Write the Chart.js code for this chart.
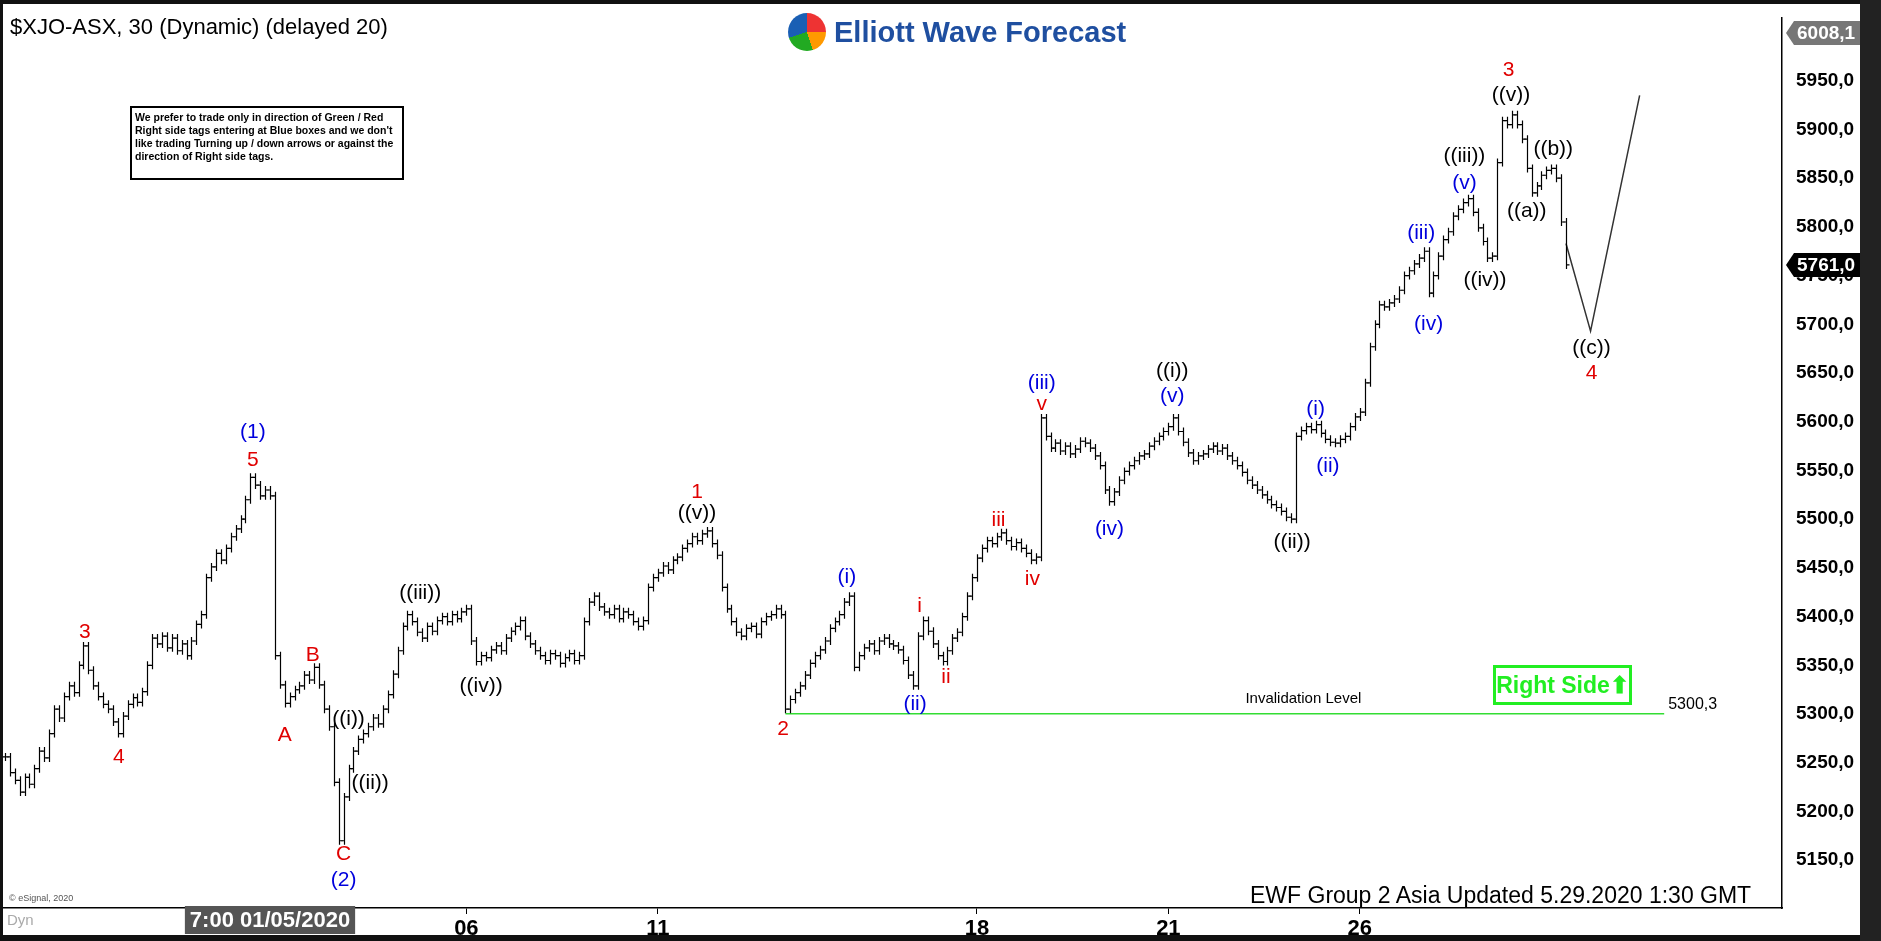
<!DOCTYPE html>
<html><head><meta charset="utf-8">
<script src="https://cdn.jsdelivr.net/npm/chart.js@4"></script>
<style>html,body{margin:0;padding:0;background:#fff;overflow:hidden}#wrap{position:relative;width:1881px;height:941px}</style>
</head><body><div id="wrap"><canvas id="c" width="1881" height="941"></canvas></div>
<script>
const closes=[5256,5240,5232,5220,5235,5228,5244,5262,5255,5280,5305,5296,5318,5329,5322,5350,5370,5345,5329,5318,5310,5305,5292,5280,5298,5310,5317,5312,5323,5350,
5378,5372,5380,5368,5378,5365,5372,5360,5375,5392,5402,5440,5451,5465,5458,5470,5482,5490,5500,5520,5543,5535,5524,5530,5524,5360,5330,5311,5318,5325,
5329,5340,5335,5348,5330,5305,5287,5230,5170,5215,5244,5262,5274,5280,5287,5296,5290,5305,5320,5341,5365,5390,5402,5395,5384,5378,5390,5385,5396,5400,
5395,5402,5398,5405,5408,5375,5354,5360,5358,5366,5370,5365,5378,5385,5390,5396,5380,5372,5365,5360,5355,5362,5360,5352,5358,5362,5355,5360,5395,5415,
5421,5410,5405,5402,5408,5398,5405,5402,5395,5390,5396,5430,5440,5445,5452,5448,5458,5461,5470,5475,5482,5478,5485,5488,5475,5463,5430,5408,5395,5384,
5380,5388,5390,5382,5395,5400,5402,5408,5402,5305,5315,5322,5329,5340,5352,5360,5366,5375,5388,5395,5402,5415,5421,5348,5360,5368,5372,5365,5375,5378,
5372,5370,5366,5355,5340,5329,5380,5396,5385,5372,5360,5354,5365,5378,5384,5400,5421,5440,5460,5470,5478,5475,5482,5486,5478,5472,5476,5470,5465,5458,
5461,5604,5585,5573,5578,5570,5575,5567,5572,5580,5578,5573,5565,5555,5530,5518,5528,5540,5549,5555,5560,5565,5567,5575,5580,5585,5590,5595,5604,5590,
5579,5568,5560,5565,5567,5572,5575,5570,5573,5565,5560,5555,5548,5540,5535,5530,5525,5520,5515,5512,5508,5502,5500,5585,5591,5595,5592,5597,5588,5582,
5579,5578,5582,5585,5595,5605,5610,5640,5677,5700,5720,5718,5722,5726,5735,5750,5755,5762,5768,5775,5732,5750,5770,5787,5795,5811,5818,5825,5829,5815,
5799,5785,5768,5770,5866,5909,5905,5915,5905,5890,5860,5835,5842,5853,5858,5860,5850,5805,5761];
const tickIdx=[54,94,133,198,237,276];
const tickLabels=['7:00 01/05/2020','06','11','18','21','26'];
const projX=[318,323,333];
const projY=[5783,5693,5935];
const invalidLevel=5300.3;
const invalidFrom=159, invalidTo=338;
const waveLabels=[
['3',16.3,5384,'#e00000'],['4',23.2,5256,'#e00000'],['(1)',50.5,5589,'#0000dd'],['5',50.5,5561,'#e00000'],
['A',57,5278,'#e00000'],['B',62.7,5360,'#e00000'],['((i))',70,5295,'#000'],['((ii))',74.4,5229,'#000'],
['C',69,5156,'#e00000'],['(2)',69,5130,'#0000dd'],['((iii))',84.6,5424,'#000'],['((iv))',97,5329,'#000'],
['1',141,5528,'#e00000'],['((v))',141,5506,'#000'],['2',158.5,5285,'#e00000'],['(i)',171.5,5441,'#0000dd'],
['(ii)',185.4,5310,'#0000dd'],['i',186.3,5411,'#e00000'],['ii',191.7,5338,'#e00000'],['iii',202.4,5499,'#e00000'],
['iv',209.3,5438,'#e00000'],['(iii)',211.2,5640,'#0000dd'],['v',211.2,5618,'#e00000'],['(iv)',225,5490,'#0000dd'],
['((i))',237.8,5652,'#000'],['(v)',237.8,5626,'#0000dd'],['((ii))',262.2,5476,'#000'],['(i)',267,5613,'#0000dd'],
['(ii)',269.5,5554,'#0000dd'],['(iii)',288.5,5794,'#0000dd'],['(iv)',290,5700,'#0000dd'],['((iii))',297.3,5873,'#000'],
['(v)',297.3,5845,'#0000dd'],['((iv))',301.5,5745,'#000'],['3',306.3,5961,'#e00000'],['((v))',306.8,5935,'#000'],
['((b))',315.4,5880,'#000'],['((a))',310,5816,'#000'],['((c))',323.2,5676,'#000'],['4',323.2,5650,'#e00000']];

const ohlc=closes.map((c,i)=>{const o=i?closes[i-1]:c;return {x:i,o:o,c:c,h:Math.max(o,c),l:Math.min(o,c)};});

const ohlcPlugin={id:'ohlc',afterDatasetsDraw(ch){
 const ctx=ch.ctx,xs=ch.scales.x,ys=ch.scales.y;ctx.save();ctx.strokeStyle='#000';ctx.lineWidth=1.2;
 ohlc.forEach(b=>{const x=Math.round(xs.getPixelForValue(b.x))+0.5;ctx.beginPath();
  ctx.moveTo(x,ys.getPixelForValue(b.h)-4);ctx.lineTo(x,ys.getPixelForValue(b.l)+4);
  const yo=ys.getPixelForValue(b.o),yc=ys.getPixelForValue(b.c);
  ctx.moveTo(x-3,yo);ctx.lineTo(x,yo);ctx.moveTo(x,yc);ctx.lineTo(x+3,yc);ctx.stroke();});
 ctx.textAlign='center';ctx.textBaseline='middle';ctx.font='21px Arial, "Liberation Sans"';
 waveLabels.forEach(l=>{ctx.fillStyle=l[3];ctx.fillText(l[0],xs.getPixelForValue(l[1]),ys.getPixelForValue(l[2]));});
 const yi=ys.getPixelForValue(invalidLevel);
 ctx.fillStyle='#000';ctx.font='15px Arial, "Liberation Sans"';ctx.fillText('Invalidation Level',xs.getPixelForValue(264.5),yi-15);
 ctx.textAlign='left';ctx.font='16px Arial, "Liberation Sans"';ctx.fillText('5300,3',xs.getPixelForValue(invalidTo)+4,yi-9);
 const tag=(v,txt,bg)=>{const y=ys.getPixelForValue(v),x0=xs.right+4;ctx.fillStyle=bg;ctx.beginPath();ctx.moveTo(x0,y);ctx.lineTo(x0+8,y-12);ctx.lineTo(1875,y-12);ctx.lineTo(1875,y+12);ctx.lineTo(x0+8,y+12);ctx.closePath();ctx.fill();
  ctx.fillStyle='#fff';ctx.font='bold 19px Arial, "Liberation Sans"';ctx.textAlign='left';ctx.fillText(txt,x0+11,y+1);};
 tag(5761,'5761,0','#000');tag(5999,'6008,1','#777');
 // highlighted first date label
 const xl=xs.getPixelForValue(tickIdx[0]);ctx.font='bold 22px Arial, "Liberation Sans"';
 const w=ctx.measureText(tickLabels[0]).width;ctx.fillStyle='#555';ctx.fillRect(xl-w/2-5,xs.bottom-29,w+10,28);
 ctx.fillStyle='#fff';ctx.textAlign='center';ctx.fillText(tickLabels[0],xl,xs.bottom-14);
 ctx.font='15px Arial, "Liberation Sans"';ctx.fillStyle='#aaa';ctx.textAlign='left';ctx.fillText('Dyn',7,xs.bottom-14);
 ctx.restore();}};

new Chart(document.getElementById('c'),{type:'scatter',
 data:{datasets:[
  {data:projX.map((x,i)=>({x:x,y:projY[i]})),showLine:true,borderColor:'#333',borderWidth:1.5,pointRadius:0},
  {data:[{x:invalidFrom,y:invalidLevel},{x:invalidTo,y:invalidLevel}],showLine:true,borderColor:'#33dd33',borderWidth:1.5,pointRadius:0}]},
 options:{responsive:false,animation:false,layout:{padding:{top:8,right:0,left:0,bottom:6}},
  plugins:{legend:{display:false},tooltip:{enabled:false}},
  scales:{
   x:{type:'linear',min:-1,max:362,grid:{display:true,drawOnChartArea:false,color:'#000',tickLength:6},border:{display:true,color:'#000',width:1.5},
    afterFit(s){s.height=27;},
    afterBuildTicks(s){s.ticks=tickIdx.map(v=>({value:v}));},
    ticks:{autoSkip:false,maxRotation:0,padding:2,color:'#000',font:{size:22,weight:'bold',family:'Arial'},callback:(v)=>{const k=tickIdx.indexOf(v);return k>0?tickLabels[k]:'';}}},
   y:{position:'right',min:5101,max:6015,grid:{display:false},border:{display:true,color:'#000',width:1.5},
    afterFit(s){s.width=99;},
    afterBuildTicks(s){const t=[];for(let v=5150;v<=5950;v+=50)t.push({value:v});s.ticks=t;},
    ticks:{color:'#000',padding:6,font:{size:19,weight:'bold',family:'Arial'},callback:v=>v.toFixed(1).replace('.',',')}}}},
 plugins:[ohlcPlugin]});
</script>
<div style="position:absolute;left:0;top:0;width:1881px;height:4px;background:#111"></div>
<div style="position:absolute;left:0;top:0;width:3px;height:941px;background:#111"></div>
<div style="position:absolute;left:0;top:935px;width:1881px;height:6px;background:#111"></div>
<div style="position:absolute;left:1860px;top:0;width:21px;height:941px;background:#222"></div>
<div style="position:absolute;left:10px;top:14px;font:22px Arial,'Liberation Sans';color:#000">$XJO-ASX, 30 (Dynamic) (delayed 20)</div>
<div style="position:absolute;left:788px;top:10px;width:360px;height:44px;display:flex;align-items:center;gap:8px">
 <div style="width:38px;height:38px;border-radius:50%;background:conic-gradient(#e33 0 25%,#f90 0 45%,#2a2 0 70%,#1a5fb4 0 100%)"></div>
 <div style="font:bold 29px Arial,'Liberation Sans';color:#1f4fa0">Elliott Wave Forecast</div></div>
<div style="position:absolute;left:130px;top:106px;width:264px;height:64px;border:2px solid #000;padding:3px;font:bold 10.5px Arial,'Liberation Sans';line-height:13px;color:#000">We prefer to trade only in direction of Green / Red Right side tags entering at Blue boxes and we don't like trading Turning up / down arrows or against the direction of Right side tags.</div>
<div style="position:absolute;left:1493px;top:665px;width:133px;height:34px;border:3px solid #22ee22;font:bold 23px Arial,'Liberation Sans';color:#22ee22;display:flex;align-items:center;justify-content:center;white-space:nowrap">Right Side&#x2B06;</div>
<div style="position:absolute;left:1250px;top:882px;font:23px Arial,'Liberation Sans';color:#000">EWF Group 2 Asia Updated 5.29.2020 1:30 GMT</div>
<div style="position:absolute;left:9px;top:893px;font:9px Arial,'Liberation Sans';color:#555">© eSignal, 2020</div>
</body></html>
